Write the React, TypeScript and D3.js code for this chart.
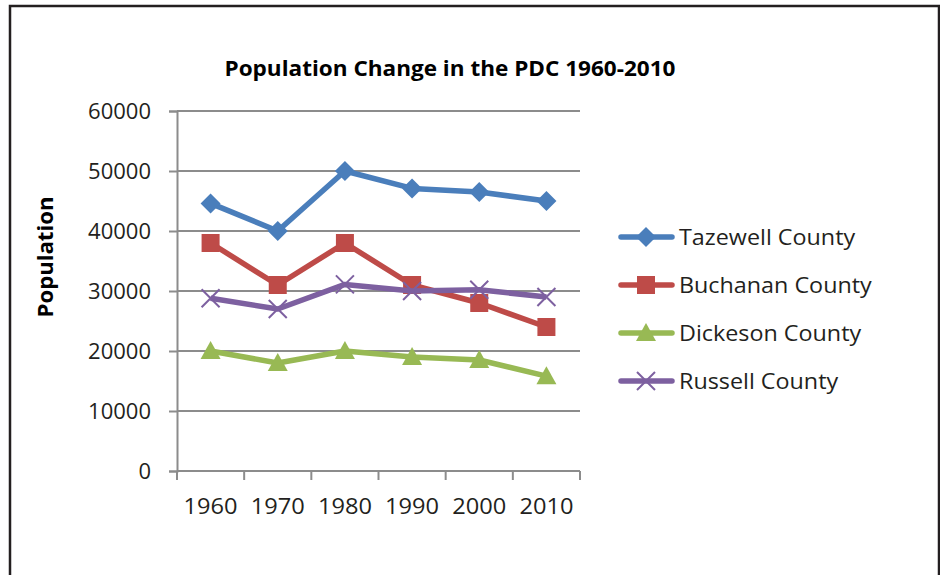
import { useEffect, useRef } from "react";
import * as d3 from "d3";

// Chart data
const years = ["1960", "1970", "1980", "1990", "2000", "2010"];
const tazewell = [44600, 40000, 50000, 47100, 46500, 45000];
const buchanan = [38000, 31000, 38000, 31000, 28000, 24000];
const dickeson = [20000, 18000, 20000, 19000, 18500, 15800];
const russell = [28800, 27000, 31100, 30000, 30200, 29000];
const yTicks = [0, 10000, 20000, 30000, 40000, 50000, 60000];

const seriesList = [
    { name: "Tazewell County", values: tazewell, color: "#4a7ebb", marker: "diamond" },
    { name: "Buchanan County", values: buchanan, color: "#be4b48", marker: "square" },
    { name: "Dickeson County", values: dickeson, color: "#98b954", marker: "triangle" },
    { name: "Russell County", values: russell, color: "#7d60a0", marker: "x" },
];

const FONT = "'Open Sans', 'Liberation Sans', sans-serif";

export default function App() {
    const svgRef = useRef<SVGSVGElement>(null);
    const width = 940;
    const height = 575;
    const plot = { left: 177, right: 580, top: 111, bottom: 471 };

    useEffect(() => {
        const svg = d3.select(svgRef.current);
        svg.selectAll("*").remove();

        // outer frame (bottom edge is off the page)
        svg.append("rect")
            .attr("x", 10).attr("y", 6)
            .attr("width", 929).attr("height", 620)
            .attr("fill", "#fff")
            .attr("stroke", "#231f20")
            .attr("stroke-width", 2.5);

        const x = d3.scaleBand().domain(years).range([plot.left, plot.right]);
        const y = d3.scaleLinear().domain([0, 60000]).range([plot.bottom, plot.top]);

        // gridlines
        svg.append("g")
            .selectAll("line")
            .data(yTicks.filter(t => t > 0))
            .join("line")
            .attr("x1", plot.left).attr("x2", plot.right)
            .attr("y1", d => y(d)).attr("y2", d => y(d))
            .attr("stroke", "#8c8c8c").attr("stroke-width", 2);

        // y axis
        const yAxis = svg.append("g")
            .attr("transform", `translate(${plot.left},0)`)
            .call(d3.axisLeft(y).tickValues(yTicks).tickSize(8).tickPadding(18).tickFormat(d3.format("d")));
        yAxis.select(".domain").attr("stroke", "#8c8c8c").attr("stroke-width", 2);
        yAxis.selectAll(".tick line").attr("stroke", "#8c8c8c").attr("stroke-width", 2);
        yAxis.selectAll(".tick text")
            .attr("font-family", FONT).attr("font-size", 22).attr("fill", "#231f20")
            .attr("dy", "0.36em");

        // x axis: ticks at category boundaries
        const xg = svg.append("g");
        xg.append("line")
            .attr("x1", plot.left).attr("x2", plot.right)
            .attr("y1", plot.bottom).attr("y2", plot.bottom)
            .attr("stroke", "#8c8c8c").attr("stroke-width", 2);
        const bounds = years.map(d => x(d)!).concat([plot.right]);
        xg.selectAll("line.tk")
            .data(bounds)
            .join("line")
            .attr("class", "tk")
            .attr("x1", d => d).attr("x2", d => d)
            .attr("y1", plot.bottom).attr("y2", plot.bottom + 9)
            .attr("stroke", "#8c8c8c").attr("stroke-width", 2);
        xg.selectAll("text")
            .data(years)
            .join("text")
            .attr("x", d => x(d)! + x.bandwidth() / 2)
            .attr("y", 514)
            .attr("text-anchor", "middle")
            .attr("font-family", FONT).attr("font-size", 22).attr("fill", "#231f20")
            .attr("textLength", 54).attr("lengthAdjust", "spacingAndGlyphs")
            .text(d => d);

        const cx = (i: number) => x(years[i])! + x.bandwidth() / 2;

        const drawMarker = (g: any, kind: string, color: string, px: number, py: number) => {
            if (kind === "diamond") {
                g.append("path")
                    .attr("d", `M${px},${py - 10}L${px + 10},${py}L${px},${py + 10}L${px - 10},${py}Z`)
                    .attr("fill", color);
            } else if (kind === "square") {
                g.append("rect")
                    .attr("x", px - 9).attr("y", py - 9).attr("width", 18).attr("height", 18)
                    .attr("fill", color);
            } else if (kind === "triangle") {
                g.append("path")
                    .attr("d", `M${px},${py - 10}L${px + 10},${py + 8}L${px - 10},${py + 8}Z`)
                    .attr("fill", color);
            } else {
                g.append("path")
                    .attr("d", `M${px - 9},${py - 9}L${px + 9},${py + 9}M${px - 9},${py + 9}L${px + 9},${py - 9}`)
                    .attr("stroke", color).attr("stroke-width", 2).attr("fill", "none");
            }
        };

        const line = d3.line<number>().x((_, i) => cx(i)).y(d => y(d));

        // series lines + markers
        seriesList.forEach(s => {
            const g = svg.append("g");
            g.append("path")
                .attr("d", line(s.values))
                .attr("fill", "none")
                .attr("stroke", s.color)
                .attr("stroke-width", 5.5)
                .attr("stroke-linejoin", "round");
            s.values.forEach((v, i) => drawMarker(g, s.marker, s.color, cx(i), y(v)));
        });

        // legend
        const legendY = d3.scaleBand().domain(seriesList.map(s => s.name)).range([213, 405]);
        seriesList.forEach(s => {
            const ly = legendY(s.name)! + legendY.bandwidth() / 2;
            const g = svg.append("g");
            g.append("line")
                .attr("x1", 621).attr("x2", 672)
                .attr("y1", ly).attr("y2", ly)
                .attr("stroke", s.color).attr("stroke-width", 5.5)
                .attr("stroke-linecap", "round");
            drawMarker(g, s.marker, s.color, 646, ly);
            const t = g.append("text")
                .attr("x", 679).attr("y", ly + 8)
                .attr("font-family", FONT).attr("font-size", 22).attr("fill", "#231f20")
                .text(s.name);
            // stretch to match the narrow-font widths of the original
            const w = (t.node() as SVGTextElement).getComputedTextLength();
            t.attr("textLength", w * 1.06).attr("lengthAdjust", "spacingAndGlyphs");
        });

        // title
        svg.append("text")
            .attr("x", 450).attr("y", 76)
            .attr("text-anchor", "middle")
            .attr("font-family", FONT).attr("font-size", 21).attr("font-weight", "bold")
            .attr("fill", "#000")
            .attr("textLength", 451).attr("lengthAdjust", "spacingAndGlyphs")
            .text("Population Change in the PDC 1960-2010");

        // y axis title
        svg.append("text")
            .attr("transform", "translate(53,257) rotate(-90)")
            .attr("text-anchor", "middle")
            .attr("font-family", FONT).attr("font-size", 21).attr("font-weight", "bold")
            .attr("fill", "#000")
            .attr("textLength", 121).attr("lengthAdjust", "spacingAndGlyphs")
            .text("Population");
    }, []);

    return (
        <svg
            ref={svgRef}
            width={width}
            height={height}
            style={{ position: "absolute", left: 0, top: 0, background: "#fff" }}
        />
    );
}
